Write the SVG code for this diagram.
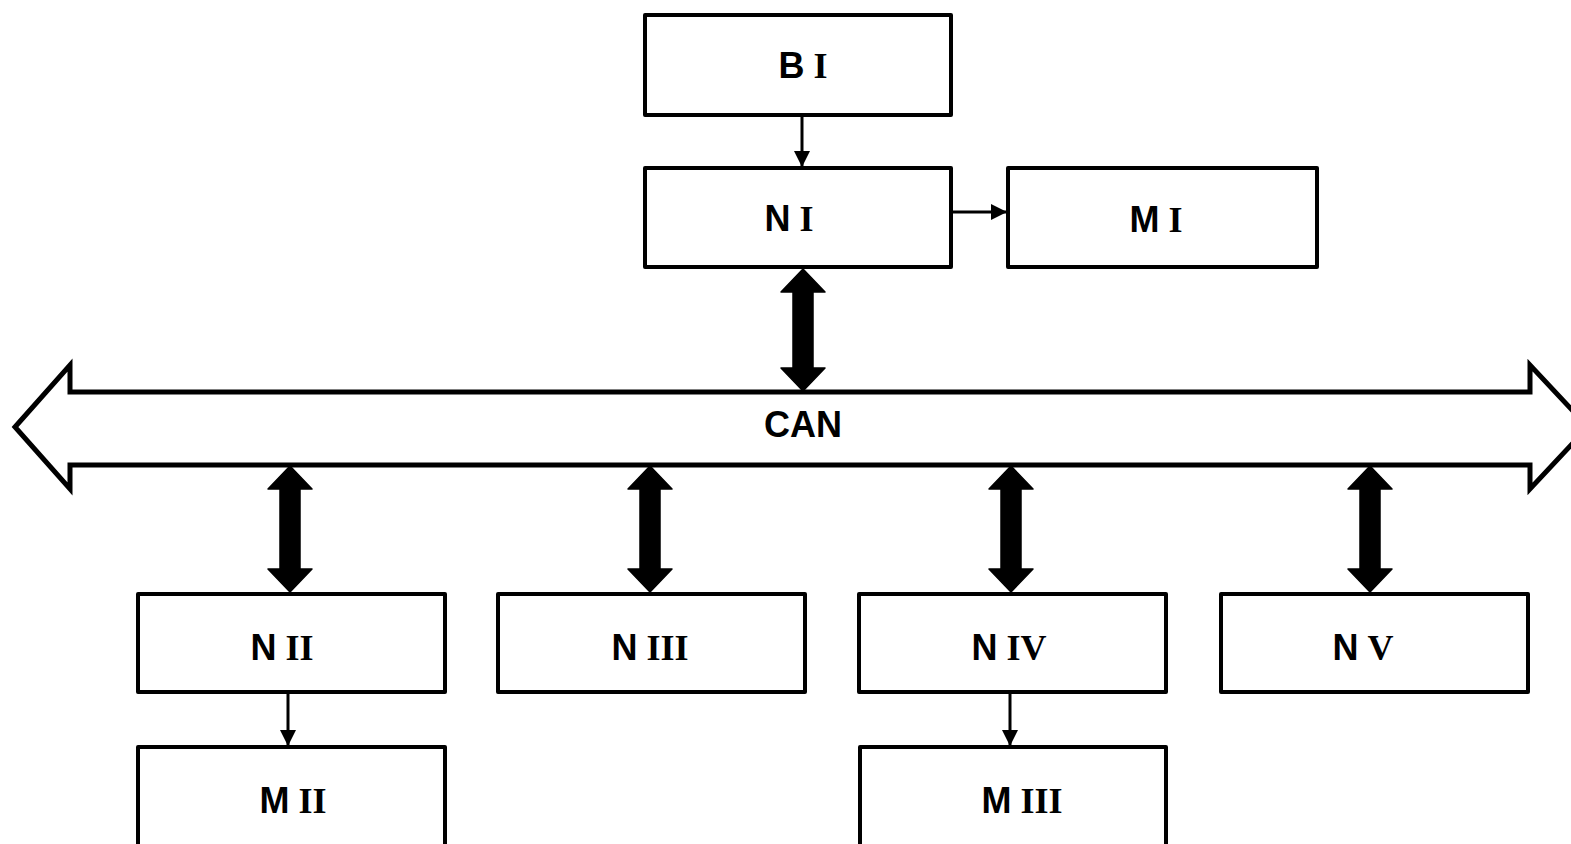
<svg xmlns="http://www.w3.org/2000/svg" width="1571" height="844" viewBox="0 0 1571 844">
<style>
.box{fill:#fff;stroke:#000;stroke-width:4;stroke-linejoin:round}
.lbl{font-size:36px;font-weight:bold;text-anchor:middle;fill:#000}
.s{font-family:"Liberation Sans",Arial,sans-serif}
.r{font-family:"Liberation Serif","Times New Roman",serif}
.thin{stroke:#000;stroke-width:3;fill:none}
.dbl{fill:#000;stroke:#000;stroke-width:1.5;stroke-linejoin:round}
.bus{fill:#fff;stroke:#000;stroke-width:5;stroke-linejoin:miter}
</style>
<defs>
<marker id="ahs" viewBox="0 0 16 16" refX="16" refY="8" markerWidth="16" markerHeight="16" orient="auto" markerUnits="userSpaceOnUse">
<path d="M0,0 L16,8 L0,16 Z" fill="#000"/>
</marker>
</defs>
<rect width="1571" height="844" fill="#fff"/>

<g id="bus">
<polygon class="bus" points="15,427 70,365 70,392 1530,392 1530,365 1588,427 1530,489 1530,465 70,465 70,489"/>
<text class="lbl s" x="803" y="437">CAN</text>
</g>

<g id="connectors">
<line class="thin" x1="802" y1="115" x2="802" y2="167" marker-end="url(#ahs)"/>
<line class="thin" x1="951" y1="212" x2="1007" y2="212" marker-end="url(#ahs)"/>
<line class="thin" x1="288" y1="692" x2="288" y2="746" marker-end="url(#ahs)"/>
<line class="thin" x1="1010" y1="692" x2="1010" y2="746" marker-end="url(#ahs)"/>
<path class="dbl" d="M803,269 L825,292 L813,292 L813,368 L825,368 L803,391 L781,368 L793,368 L793,292 L781,292 Z"/>
<path class="dbl" d="M290,466 L312,489 L300,489 L300,569 L312,569 L290,592 L268,569 L280,569 L280,489 L268,489 Z"/>
<path class="dbl" d="M650,466 L672,489 L660,489 L660,569 L672,569 L650,592 L628,569 L640,569 L640,489 L628,489 Z"/>
<path class="dbl" d="M1011,466 L1033,489 L1021,489 L1021,569 L1033,569 L1011,592 L989,569 L1001,569 L1001,489 L989,489 Z"/>
<path class="dbl" d="M1370,466 L1392,489 L1380,489 L1380,569 L1392,569 L1370,592 L1348,569 L1360,569 L1360,489 L1348,489 Z"/>
</g>

<g id="BI">
<rect class="box" x="645" y="15" width="306" height="100"/>
<text class="lbl" x="803" y="78"><tspan class="s">B</tspan> <tspan class="r">I</tspan></text>
</g>
<g id="NI">
<rect class="box" x="645" y="168" width="306" height="99"/>
<text class="lbl" x="789" y="231"><tspan class="s">N</tspan> <tspan class="r">I</tspan></text>
</g>
<g id="MI">
<rect class="box" x="1008" y="168" width="309" height="99"/>
<text class="lbl" x="1156" y="232"><tspan class="s">M</tspan> <tspan class="r">I</tspan></text>
</g>
<g id="NII">
<rect class="box" x="138" y="594" width="307" height="98"/>
<text class="lbl" x="282" y="660"><tspan class="s">N</tspan> <tspan class="r">II</tspan></text>
</g>
<g id="NIII">
<rect class="box" x="498" y="594" width="307" height="98"/>
<text class="lbl" x="650" y="660"><tspan class="s">N</tspan> <tspan class="r">III</tspan></text>
</g>
<g id="NIV">
<rect class="box" x="859" y="594" width="307" height="98"/>
<text class="lbl" x="1009" y="660"><tspan class="s">N</tspan> <tspan class="r">IV</tspan></text>
</g>
<g id="NV">
<rect class="box" x="1221" y="594" width="307" height="98"/>
<text class="lbl" x="1363" y="660"><tspan class="s">N</tspan> <tspan class="r">V</tspan></text>
</g>
<g id="MII">
<rect class="box" x="138" y="747" width="307" height="110"/>
<text class="lbl" x="293" y="813"><tspan class="s">M</tspan> <tspan class="r">II</tspan></text>
</g>
<g id="MIII">
<rect class="box" x="860" y="747" width="306" height="110"/>
<text class="lbl" x="1022" y="813"><tspan class="s">M</tspan> <tspan class="r">III</tspan></text>
</g>
</svg>
